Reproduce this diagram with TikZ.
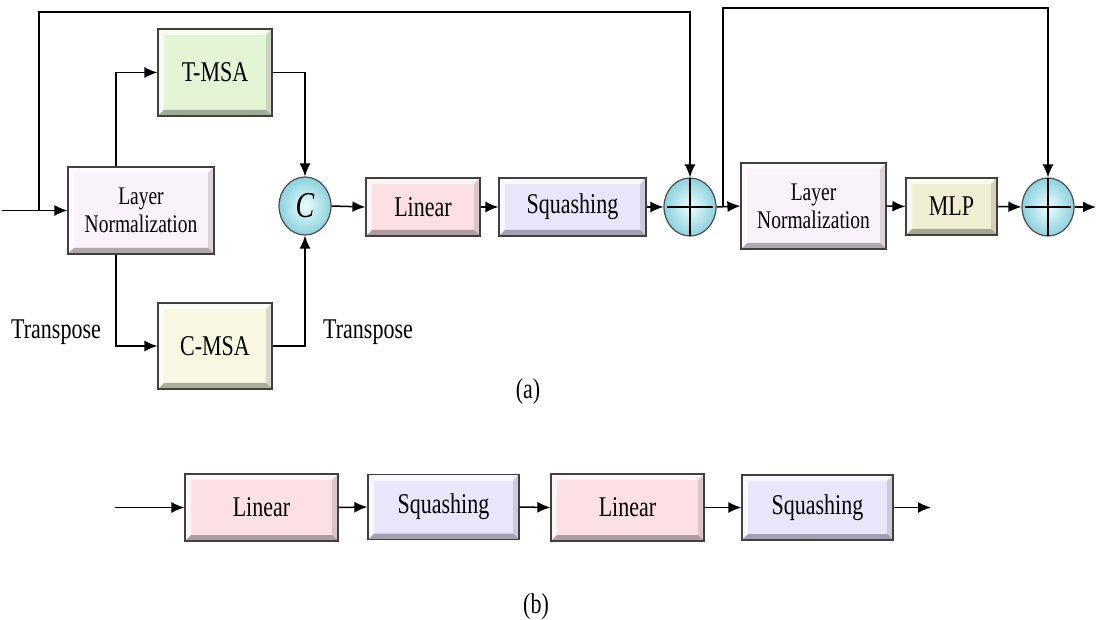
\documentclass[tikz,border=0pt]{standalone}
\usepackage{fontspec}
\setmainfont{Liberation Serif}
\usepackage{graphicx}
\usetikzlibrary{arrows.meta,shapes.geometric,calc}
\newcommand\vs[1]{\scalebox{1}[1.3]{#1}}
\definecolor{lnc}{RGB}{250,242,250}
\definecolor{tmc}{RGB}{228,245,214}
\definecolor{cmc}{RGB}{248,248,226}
\definecolor{linc}{RGB}{252,224,228}
\definecolor{sqc}{RGB}{232,230,250}
\definecolor{mlpc}{RGB}{240,238,210}
\definecolor{cin}{RGB}{236,253,254}
\definecolor{cout}{RGB}{140,210,222}
\tikzset{
  line/.style={line width=1.5pt, draw=black},
  arr/.style={line, -{Latex[length=13pt,width=11pt]}},
  blk/.style={rectangle, draw=black!75, line width=1.2pt, inner sep=0pt,
    font=\fontsize{22}{26}\selectfont,
    path picture={
      \fill[white,opacity=.7] (path picture bounding box.north west) -- (path picture bounding box.north east) -- ([shift={(-6pt,-6pt)}]path picture bounding box.north east) -- ([shift={(6pt,-6pt)}]path picture bounding box.north west) -- cycle;
      \fill[white,opacity=.7] (path picture bounding box.north west) -- (path picture bounding box.south west) -- ([shift={(6pt,6pt)}]path picture bounding box.south west) -- ([shift={(6pt,-6pt)}]path picture bounding box.north west) -- cycle;
      \fill[black,opacity=.12] (path picture bounding box.north east) -- (path picture bounding box.south east) -- ([shift={(-6pt,6pt)}]path picture bounding box.south east) -- ([shift={(-6pt,-6pt)}]path picture bounding box.north east) -- cycle;
      \fill[black,opacity=.3] (path picture bounding box.south west) -- (path picture bounding box.south east) -- ([shift={(-6pt,6pt)}]path picture bounding box.south east) -- ([shift={(6pt,6pt)}]path picture bounding box.south west) -- cycle;
    }},
  lnbox/.style={blk, fill=lnc, minimum width=146pt, minimum height=87pt, align=center, font=\fontsize{19.5}{28}\selectfont},
  circ/.style={ellipse, draw=black!70, line width=1.2pt, minimum width=52pt, minimum height=58pt, inner sep=0pt, inner color=cin, outer color=cout},
  lbl/.style={font=\fontsize{22}{26}\selectfont, inner sep=0pt}
}
\begin{document}
\begin{tikzpicture}[x=1pt,y=-1pt]
\useasboundingbox (0,0) rectangle (1096,620);
% (a)
\node[lnbox] (ln1) at (141,210.5) {\vs{Layer}\\\vs{Normalization}};
\node[blk, fill=tmc, minimum width=114pt, minimum height=87pt] (tmsa) at (215,72.5) {\vs{T-MSA}};
\node[blk, fill=cmc, minimum width=114pt, minimum height=86pt] (cmsa) at (215,346) {\vs{C-MSA}};
\node[circ, font=\fontsize{28}{30}\selectfont] (c) at (305,206) {\vs{\textit{C}}};
\node[blk, fill=linc, minimum width=114pt, minimum height=58pt] (lin) at (423,207) {\vs{Linear}};
\node[blk, fill=sqc, minimum width=147pt, minimum height=58pt] (sq) at (572.5,207) {\vs{Squashing}};
\node[circ] (p1) at (690,207) {};
\node[lnbox, minimum width=145pt, minimum height=86pt] (ln2) at (813.5,206) {\vs{Layer}\\\vs{Normalization}};
\node[blk, fill=mlpc, minimum width=91pt, minimum height=57pt] (mlp) at (951.5,206.5) {\vs{MLP}};
\node[circ] (p2) at (1048,207) {};
\foreach \p in {p1,p2}{
  \draw[line] ([xshift=4pt]\p.west) -- ([xshift=-4pt]\p.east);
  \draw[line] ([yshift=-1pt]\p.north) -- ([yshift=1pt]\p.south);
}
\node[lbl] (t1) at (56,332) {\vs{Transpose}};
\node[lbl] (t2) at (368,332) {\vs{Transpose}};
\node[lbl] (capa) at (528,392) {\vs{(a)}};

\coordinate (in) at (2,210.5);
\coordinate (sk1) at (39,210.5);
\coordinate (top1) at (39,12);
\coordinate (sk2) at (723,207);
\coordinate (top2) at (723,8);
\coordinate (out) at (1096,207);
\draw[arr] (in) -- (ln1.west);
\draw[arr] (sk1) -- (top1) -| (p1.north);
\draw[arr] ([xshift=-25pt]ln1.north) |- (tmsa.west);
\draw[arr] (tmsa.east) -| (c.north);
\draw[arr] ([xshift=-25pt]ln1.south) |- (cmsa.west);
\draw[arr] (cmsa.east) -| (c.south);
\draw[arr] (c.east) -- (lin.west);
\draw[arr] (lin.east) -- (sq.west);
\draw[arr] (sq.east) -- (p1.west);
\draw[arr] (p1.east) -- (ln2.west);
\draw[arr] (sk2) -- (top2) -| (p2.north);
\draw[arr] (ln2.east) -- (mlp.west);
\draw[arr] (mlp.east) -- (p2.west);
\draw[arr] (p2.east) -- (out);

% (b)
\node[blk, fill=linc, minimum width=153pt, minimum height=67pt] (bl1) at (261.5,507.5) {\vs{Linear}};
\node[blk, fill=sqc, minimum width=151pt, minimum height=65pt] (bs1) at (443.5,507) {\vs{Squashing}};
\node[blk, fill=linc, minimum width=153pt, minimum height=67pt] (bl2) at (627.5,507.5) {\vs{Linear}};
\node[blk, fill=sqc, minimum width=151pt, minimum height=65pt] (bs2) at (817.5,507.5) {\vs{Squashing}};
\coordinate (bin) at (115,507.5);
\coordinate (bout) at (931,507.5);
\draw[arr] (bin) -- (bl1.west);
\draw[arr] (bl1.east) -- (bs1.west);
\draw[arr] (bs1.east) -- (bl2.west);
\draw[arr] (bl2.east) -- (bs2.west);
\draw[arr] (bs2.east) -- (bout);
\node[lbl] (capb) at (536,607) {\vs{(b)}};
\end{tikzpicture}
\end{document}
